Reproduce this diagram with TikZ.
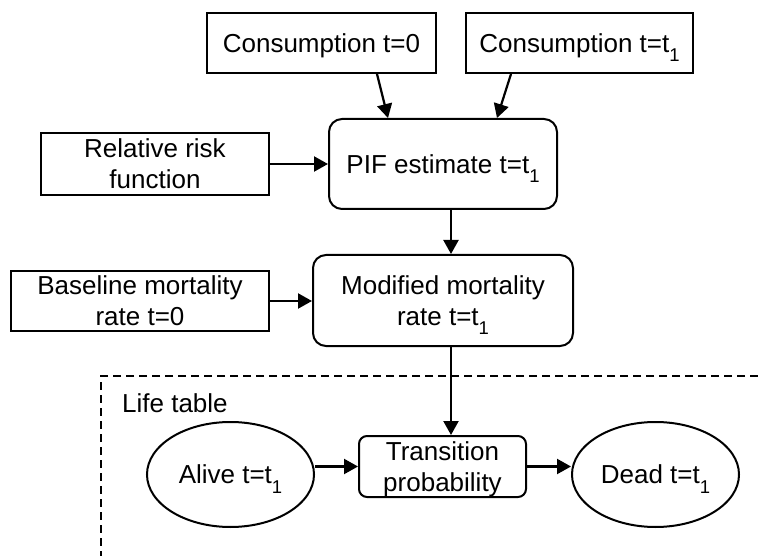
\documentclass[tikz,border=0pt]{standalone}
\usepackage{fontspec}
\setmainfont{Liberation Sans}
\usetikzlibrary{arrows.meta,shapes.geometric}
\newcommand\subone{\raisebox{-9.5pt}{\fontsize{18.5}{18.5}\selectfont 1}}
\begin{document}
\begin{tikzpicture}[x=1pt,y=-1pt,
  every node/.style={font=\fontsize{26}{31}\selectfont, align=center, inner sep=0pt,
    text height=18.6pt, text depth=0pt},
  twoline/.style={text height=49.6pt, text depth=0pt},
  sqbox/.style={draw, line width=2pt, rectangle},
  rbox/.style={draw, line width=2pt, rectangle, rounded corners=13pt},
  ebox/.style={draw, line width=2pt, ellipse, minimum width=167pt, minimum height=105pt},
  arr/.style={line width=2.2pt, -{Triangle[length=14pt,width=15pt]}}
]
\useasboundingbox (0,0) rectangle (758,556);
\node[sqbox, minimum width=229pt, minimum height=60pt] (c0) at (321.5,43) {Consumption t=0};
\node[sqbox, minimum width=227pt, minimum height=60pt] (c1) at (579.5,43) {Consumption t=t\subone};
\node[rbox, minimum width=228pt, minimum height=90pt] (pif) at (443,164) {PIF estimate t=t\subone};
\node[sqbox, twoline, minimum width=228pt, minimum height=62pt] (rr) at (155,164) {Relative risk\\function};
\node[rbox, twoline, minimum width=260pt, minimum height=91pt] (mod) at (443,300.5) {Modified mortality\\rate t=t\subone};
\node[sqbox, twoline, minimum width=258pt, minimum height=60pt] (base) at (140,301) {Baseline mortality\\rate t=0};
\node[rbox, twoline, rounded corners=8pt, minimum width=167pt, minimum height=61pt] (trans) at (442.5,466.5) {Transition\\probability};
\node[ebox] (alive) at (230.5,474.5) {Alive t=t\subone};
\node[ebox] (dead) at (655.5,474.5) {Dead t=t\subone};
\node[anchor=base west] (lt) at (122,412) {Life table};
\coordinate (dtr) at (758,376);
\coordinate (dbl) at (101,556);
\draw[line width=2pt, dash pattern=on 8pt off 5pt] (dtr) -- (dbl |- dtr) -- (dbl);
\draw[arr] ([xshift=55.5pt]c0.south) -- ([xshift=-55pt]pif.north);
\draw[arr] ([xshift=-68.5pt]c1.south) -- ([xshift=54pt]pif.north);
\draw[arr] (rr.east) -- (pif.west);
\draw[arr] ([xshift=8pt]pif.south) -- ([xshift=8pt]mod.north);
\draw[arr] (base.east) -- (base.east -| mod.west);
\draw[arr] ([xshift=8pt]mod.south) -- ([xshift=8pt]mod.south |- trans.north);
\draw[arr] (alive.east |- trans.west) -- (trans.west);
\draw[arr] (trans.east) -- (dead.west |- trans.east);
\end{tikzpicture}
\end{document}
